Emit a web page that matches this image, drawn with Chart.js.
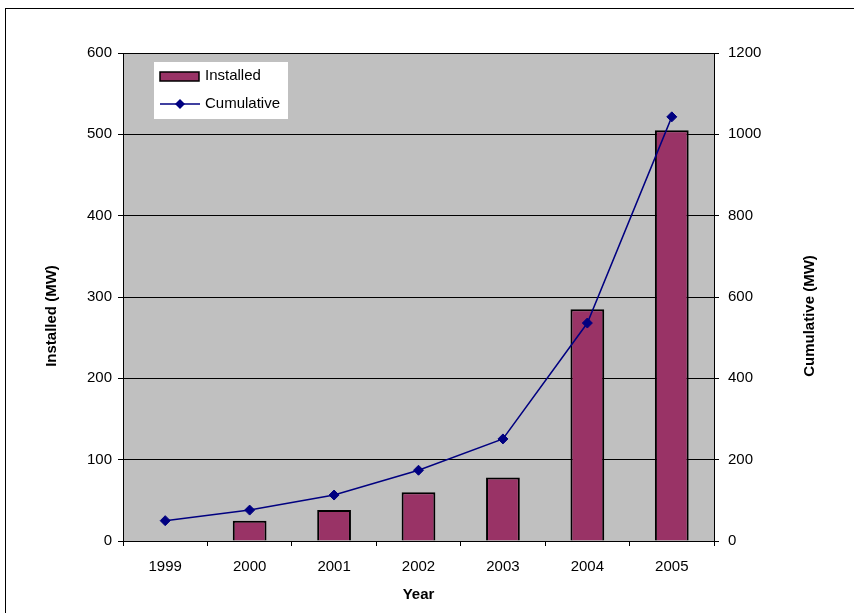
<!DOCTYPE html>
<html>
<head>
<meta charset="utf-8">
<script src="https://cdn.jsdelivr.net/npm/chart.js@4"></script>
<style>
  html, body { margin: 0; padding: 0; background: #ffffff; overflow: hidden; }
  #wrap { width: 854px; height: 613px; }
</style>
</head>
<body>
<div id="wrap"><canvas id="c" width="854" height="613"></canvas></div>
<script>
const years = ['1999', '2000', '2001', '2002', '2003', '2004', '2005'];
const installed = [null, 25, 38, 60, 78, 285, 505];
const cumulative = [50, 76, 113, 174, 251, 536, 1043];
const leftTicks = [0, 100, 200, 300, 400, 500, 600];
const rightTicks = [0, 200, 400, 600, 800, 1000, 1200];
const seriesNames = ['Installed', 'Cumulative'];
const axisTitles = { x: 'Year', left: 'Installed (MW)', right: 'Cumulative (MW)' };

const FONT = '"Liberation Sans", Arial, sans-serif';
const BAR_COLOR = '#993366';
const LINE_COLOR = '#000080';
const FS = 15;

const decor = {
  id: 'decor',
  beforeDraw(chart) {
    const { ctx, chartArea: a } = chart;
    ctx.save();
    ctx.fillStyle = '#C0C0C0';
    ctx.fillRect(a.left, a.top, a.right - a.left, a.bottom - a.top);
    ctx.strokeStyle = '#000000';
    ctx.lineWidth = 1;
    ctx.strokeRect(5.5, 8.5, 1000, 1000);
    ctx.restore();
  },
  afterDraw(chart) {
    const { ctx, chartArea: a } = chart;
    ctx.save();
    ctx.font = 'bold ' + FS + 'px ' + FONT;
    ctx.fillStyle = '#000';
    ctx.textAlign = 'center';
    ctx.textBaseline = 'middle';
    const cy = 316;
    ctx.save(); ctx.translate(52, cy); ctx.rotate(-Math.PI / 2);
    ctx.fillText(axisTitles.left, 0, 0); ctx.restore();
    ctx.save(); ctx.translate(810, cy); ctx.rotate(-Math.PI / 2);
    ctx.fillText(axisTitles.right, 0, 0); ctx.restore();

    const lx = a.left + 31, ly = a.top + 9;
    ctx.fillStyle = '#ffffff';
    ctx.fillRect(lx, ly, 134, 57);
    const ds = chart.data.datasets;
    ctx.fillStyle = ds[0].backgroundColor;
    ctx.strokeStyle = '#000';
    ctx.lineWidth = 1.5;
    ctx.fillRect(lx + 6, ly + 10, 39, 9);
    ctx.strokeRect(lx + 6, ly + 10, 39, 9);
    const yy = ly + 42;
    ctx.strokeStyle = ds[1].borderColor;
    ctx.lineWidth = 1.5;
    ctx.beginPath(); ctx.moveTo(lx + 6, yy); ctx.lineTo(lx + 46, yy); ctx.stroke();
    ctx.fillStyle = ds[1].borderColor;
    const cx = lx + 26, r = 5;
    ctx.beginPath(); ctx.moveTo(cx, yy - r); ctx.lineTo(cx + r, yy); ctx.lineTo(cx, yy + r); ctx.lineTo(cx - r, yy); ctx.closePath(); ctx.fill();
    ctx.font = FS + 'px ' + FONT;
    ctx.fillStyle = '#000';
    ctx.textAlign = 'left';
    ctx.fillText(ds[0].label, lx + 51, ly + 14);
    ctx.fillText(ds[1].label, lx + 51, yy);
    ctx.restore();
  }
};

new Chart(document.getElementById('c'), {
  data: {
    labels: years,
    datasets: [
      {
        type: 'bar', label: seriesNames[0], data: installed, yAxisID: 'y',
        backgroundColor: BAR_COLOR, borderColor: '#000000', borderWidth: 2,
        borderSkipped: 'start',
        categoryPercentage: 1.0, barPercentage: 0.4, order: 1
      },
      {
        type: 'line', label: seriesNames[1], data: cumulative, yAxisID: 'y1',
        borderColor: LINE_COLOR, backgroundColor: LINE_COLOR, borderWidth: 1.5,
        pointStyle: 'rectRot', pointRadius: 5, pointBackgroundColor: LINE_COLOR,
        pointBorderColor: LINE_COLOR, pointBorderWidth: 1, tension: 0, order: 0
      }
    ]
  },
  options: {
    responsive: false,
    animation: false,
    layout: { padding: { top: 53, left: 0, right: 0, bottom: 0 } },
    plugins: { legend: { display: false }, tooltip: { enabled: false } },
    scales: {
      x: {
        type: 'category', offset: true,
        grid: { offset: true, drawOnChartArea: false, drawTicks: true, tickLength: 5, color: '#000' },
        border: { color: '#000', width: 1 },
        ticks: { color: '#000', font: { family: FONT, size: FS }, padding: 12, maxRotation: 0 },
        title: { display: true, text: axisTitles.x, color: '#000', font: { family: FONT, size: FS, weight: 'bold' }, padding: { top: 0, bottom: 9 } },
        afterFit(s) { s.height = 72; }
      },
      y: {
        position: 'left', min: leftTicks[0], max: leftTicks[leftTicks.length - 1],
        afterBuildTicks(s) { s.ticks = leftTicks.map(v => ({ value: v })); },
        grid: { color: '#000', lineWidth: 1, drawTicks: true, tickLength: 5 },
        border: { color: '#000', width: 1 },
        ticks: { color: '#000', font: { family: FONT, size: FS }, padding: 6, callback: v => String(v) },
        afterFit(s) { s.width = 123; }
      },
      y1: {
        position: 'right', min: rightTicks[0], max: rightTicks[rightTicks.length - 1],
        afterBuildTicks(s) { s.ticks = rightTicks.map(v => ({ value: v })); },
        grid: { drawOnChartArea: false, color: '#000', drawTicks: true, tickLength: 5 },
        border: { color: '#000', width: 1 },
        ticks: { color: '#000', font: { family: FONT, size: FS }, padding: 9, callback: v => String(v) },
        afterFit(s) { s.width = 140; }
      }
    }
  },
  plugins: [decor]
});
</script>
</body>
</html>
